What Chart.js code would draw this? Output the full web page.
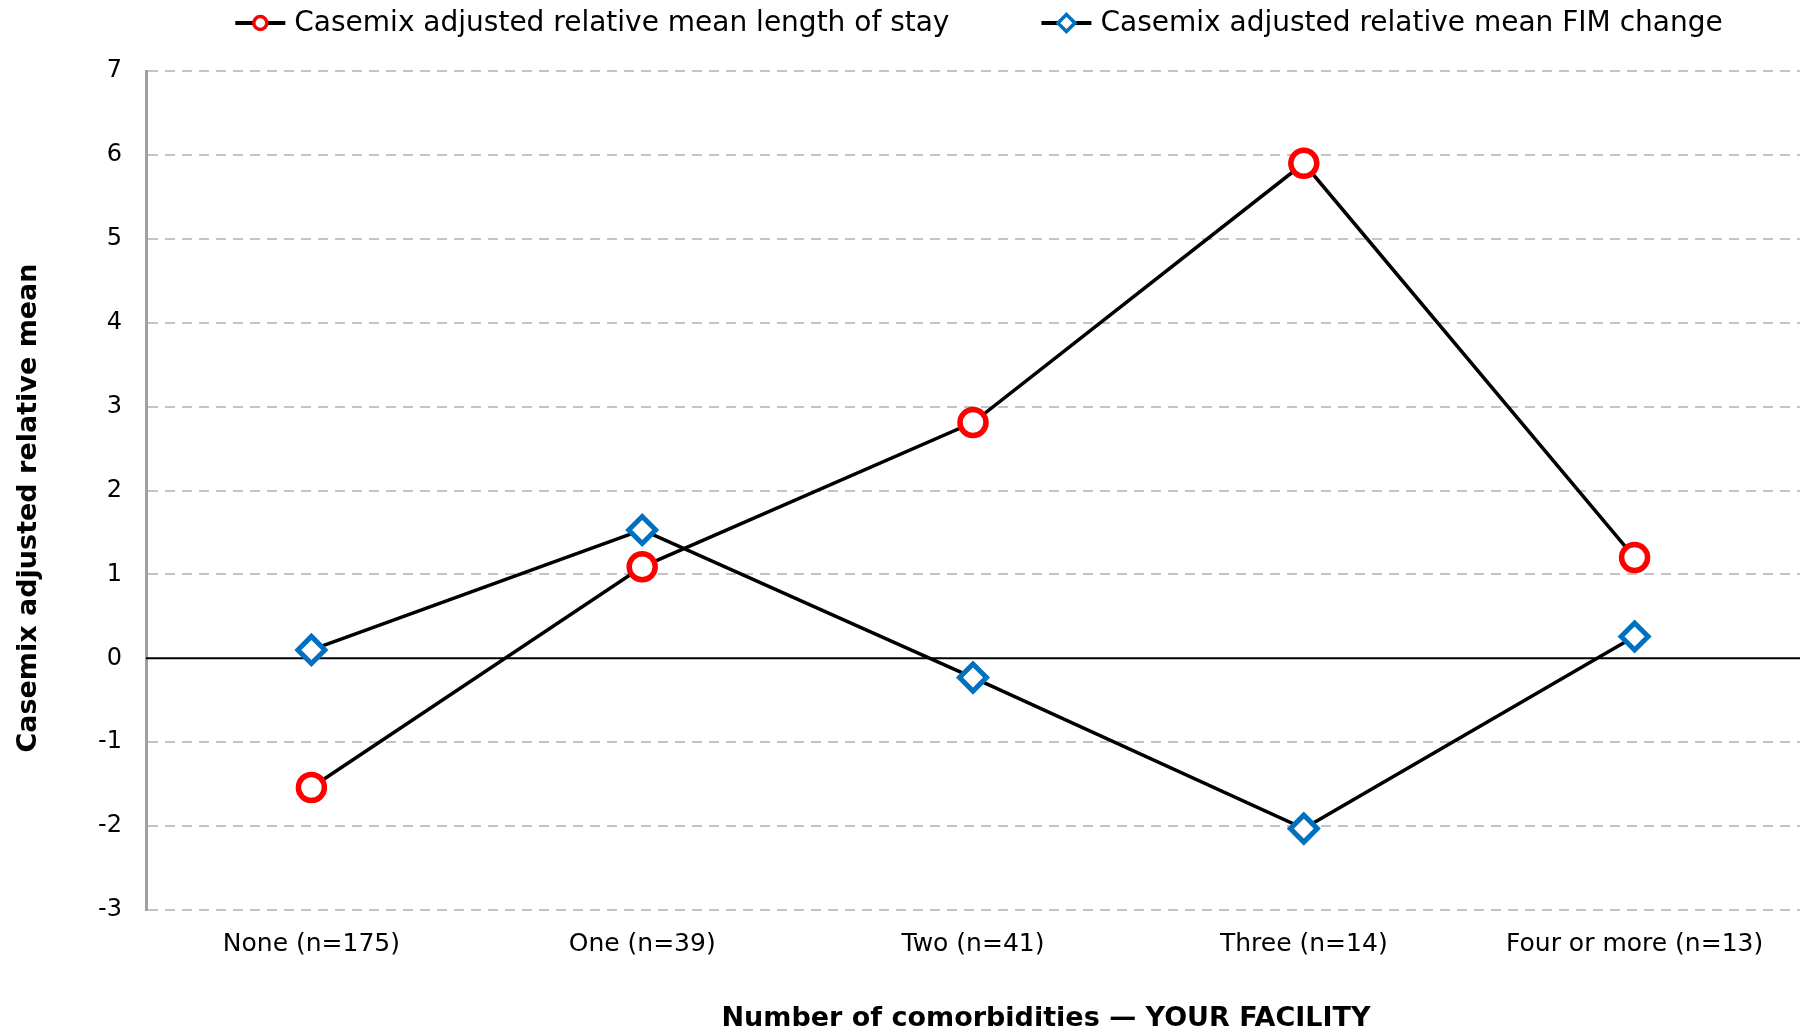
<!DOCTYPE html>
<html>
<head>
<meta charset="utf-8">
<script src="https://cdn.jsdelivr.net/npm/chart.js@4/dist/chart.umd.min.js"></script>
<style>
  html, body { margin: 0; padding: 0; background: #fff; overflow: hidden; }
  #wrap { width: 1806px; height: 1035px; position: relative; }
</style>
</head>
<body>
<div id="wrap"><canvas id="line-chart"></canvas></div>
<script>
// Data
const categories = ["None (n=175)", "One (n=39)", "Two (n=41)", "Three (n=14)", "Four or more (n=13)"];
const losValues = [-1.54, 1.09, 2.81, 5.9, 1.2];
const fimValues = [0.1, 1.53, -0.23, -2.03, 0.26];
const seriesNames = ["Casemix adjusted relative mean length of stay", "Casemix adjusted relative mean FIM change"];
const yTitle = "Casemix adjusted relative mean";
const xTitle = "Number of comorbidities \u2014 YOUR FACILITY";

const FONT = "'DejaVu Sans', Verdana, sans-serif";
const RED = "#FF0000";
const BLUE = "#0070C0";

// Draws a little marker used in the legend
const drawMarker = (ctx, style, x, y, r, color, lw) => {
  ctx.save();
  ctx.fillStyle = "#fff";
  ctx.strokeStyle = color;
  ctx.lineWidth = lw;
  ctx.beginPath();
  if (style === "circle") {
    ctx.arc(x, y, r, 0, Math.PI * 2);
  } else {
    ctx.moveTo(x, y - r);
    ctx.lineTo(x + r, y);
    ctx.lineTo(x, y + r);
    ctx.lineTo(x - r, y);
    ctx.closePath();
  }
  ctx.fill();
  ctx.stroke();
  ctx.restore();
};

// Zero line, legend and axis titles
const extras = {
  id: "extras",
  beforeDatasetsDraw(chart) {
    const { ctx, chartArea } = chart;
    const y0 = chart.scales.y.getPixelForValue(0);
    ctx.save();
    ctx.strokeStyle = "#000";
    ctx.lineWidth = 2;
    ctx.beginPath();
    ctx.moveTo(chartArea.left, y0);
    ctx.lineTo(chartArea.right, y0);
    ctx.stroke();
    ctx.restore();
  },
  afterDraw(chart) {
    const { ctx, chartArea } = chart;
    ctx.save();
    // legend
    ctx.font = "28px " + FONT;
    ctx.textBaseline = "middle";
    ctx.fillStyle = "#000";
    const lineLen = 50, textGap = 9, itemGap = 92;
    const widths = seriesNames.map((s) => lineLen + textGap + ctx.measureText(s).width);
    const total = widths[0] + widths[1] + itemGap;
    let x = (chartArea.left + chartArea.right) / 2 + 6 - total / 2;
    const ly = 23;
    const styles = [["circle", RED, 6.5, 3.5], ["diamond", BLUE, 8.5, 3.5]];
    seriesNames.forEach((name, i) => {
      ctx.strokeStyle = "#000";
      ctx.lineWidth = 4;
      ctx.beginPath();
      ctx.moveTo(x, ly);
      ctx.lineTo(x + lineLen, ly);
      ctx.stroke();
      drawMarker(ctx, styles[i][0], x + lineLen / 2, ly, styles[i][2], styles[i][1], styles[i][3]);
      ctx.fillText(name, x + lineLen + textGap, ly + 1);
      x += widths[i] + itemGap;
    });
    // axis titles
    ctx.font = "bold 27px " + FONT;
    ctx.textAlign = "center";
    ctx.fillText(xTitle, 1046, 1019);
    ctx.translate(29, 508);
    ctx.rotate(-Math.PI / 2);
    ctx.fillText(yTitle, 0, 0);
    ctx.restore();
  },
};

const info = {
  labels: categories,
  datasets: [
    {
      label: seriesNames[0],
      data: losValues,
      borderColor: "#000",
      borderWidth: 3.5,
      pointStyle: "circle",
      pointRadius: 13,
      pointBorderWidth: 5.5,
      pointBorderColor: RED,
      pointBackgroundColor: "#fff",
      tension: 0,
    },
    {
      label: seriesNames[1],
      data: fimValues,
      borderColor: "#000",
      borderWidth: 3.5,
      pointStyle: "rectRot",
      pointRadius: 13.5,
      pointBorderWidth: 5,
      pointBorderColor: BLUE,
      pointBackgroundColor: "#fff",
      tension: 0,
    },
  ],
};

const options = {
  responsive: true,
  maintainAspectRatio: false,
  animation: false,
  layout: { autoPadding: false, padding: { top: 71, right: 6, left: 0, bottom: 0 } },
  plugins: {
    legend: { display: false },
    tooltip: { enabled: false },
  },
  scales: {
    x: {
      offset: true,
      grid: { display: false },
      border: { display: false },
      ticks: {
        color: "#000",
        padding: 11,
        maxRotation: 0,
        font: { family: FONT, size: 25 },
      },
      afterFit: (scale) => {
        scale.height = 125;
        scale.paddingLeft = 0;
        scale.paddingRight = 0;
      },
    },
    y: {
      min: -3,
      max: 7,
      ticks: {
        stepSize: 1,
        color: "#000",
        padding: 24,
        font: { family: FONT, size: 24 },
      },
      grid: {
        drawTicks: false,
        lineWidth: 2,
        color: (c) => (c.tick && c.tick.value === 0 ? "rgba(0,0,0,0)" : "#C4C4C4"),
      },
      border: { display: true, color: "#A0A0A0", width: 3, dash: [10, 7] },
      afterFit: (scale) => { scale.width = 146; },
    },
  },
};

new Chart(document.getElementById("line-chart"), {
  type: "line",
  data: info,
  options: options,
  plugins: [extras],
});
</script>
</body>
</html>
